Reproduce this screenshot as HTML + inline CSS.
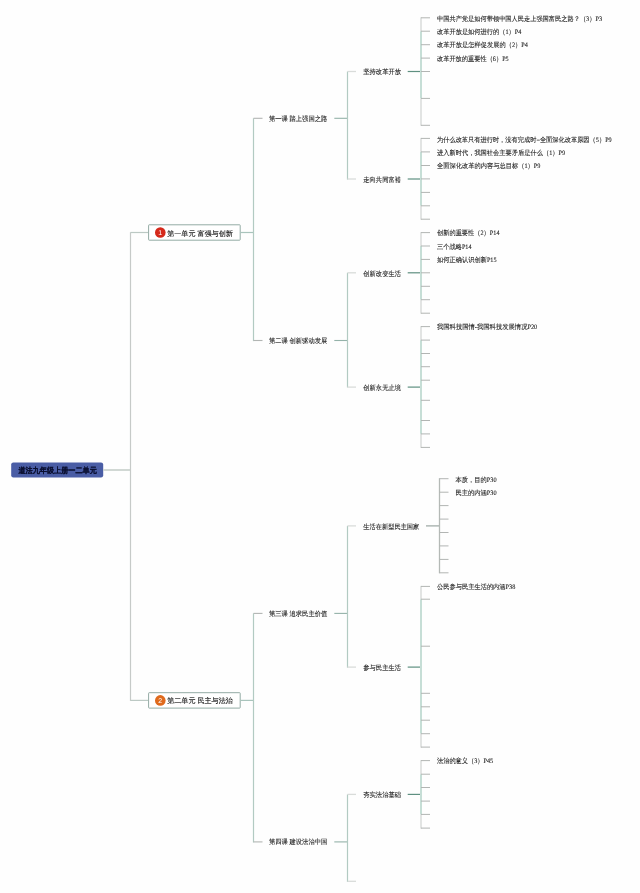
<!DOCTYPE html>
<html><head><meta charset="utf-8"><title>道法九年级上册一二单元</title>
<script>
(function(){try{var c=document.createElement('canvas').getContext('2d');c.font='100px "Liberation Sans", sans-serif';if(c.measureText('中国').width<180){document.documentElement.className+=' nocjk';}}catch(e){}})();
</script>
<style>
html,body{margin:0;padding:0;background:#fff;}
body{width:640px;height:893px;overflow:hidden;font-family:"Liberation Sans",sans-serif;}
svg{display:block;font-family:"Liberation Sans",sans-serif;text-rendering:geometricPrecision;filter:blur(0.3px);}
.t{stroke-width:0.1px;} .lat{font-family:"Liberation Serif",serif;} .u{stroke-width:0.13px;} .r{stroke-width:0.1px;}
.nocjk .t{stroke-width:0.26px;} .nocjk .u{stroke-width:0.4px;} .nocjk .r{stroke-width:0.75px;}
</style></head><body>
<svg width="640" height="893" viewBox="0 0 640 893">
<rect width="640" height="893" fill="#fefefe"/>
<rect x="11.20" y="462.40" width="92.00" height="15.00" fill="#4a5da5" rx="2.2"/>
<text class="r" x="18.5" y="473.00" font-size="7.8" fill="#0a0f30" font-weight="bold" textLength="78.3" lengthAdjust="spacingAndGlyphs" stroke="#0a0f30">道法九年级上册一二单元</text>
<rect x="103.00" y="469.10" width="27.00" height="1.80" fill="#cdd4d0"/>
<rect x="129.90" y="232.30" width="1.20" height="468.60" fill="#c6cac8"/>
<rect x="130.50" y="231.90" width="17.50" height="1.20" fill="#bcc9c4"/>
<rect x="148.6" y="224.8" width="91.6" height="15.4" rx="0.6" fill="#fff" stroke="#93aba4" stroke-width="1"/>
<circle cx="160.3" cy="232.5" r="5.3" fill="#d5291b"/>
<text x="160.3" y="235.0" font-size="7" fill="#fff" text-anchor="middle">1</text>
<text class="u" x="167.2" y="236.00" font-size="7.1" fill="#151515" textLength="65.6" lengthAdjust="spacingAndGlyphs" stroke="#151515">第一单元 富强与创新</text>
<rect x="240.40" y="231.90" width="13.10" height="1.20" fill="#a9c4bc"/>
<rect x="130.50" y="699.80" width="17.50" height="1.20" fill="#bcc9c4"/>
<rect x="148.6" y="692.7" width="91.6" height="15.4" rx="0.6" fill="#fff" stroke="#93aba4" stroke-width="1"/>
<circle cx="160.3" cy="700.4" r="5.3" fill="#df6a1d"/>
<text x="160.3" y="702.9" font-size="7" fill="#fff" text-anchor="middle">2</text>
<text class="u" x="167.2" y="703.00" font-size="7.1" fill="#151515" textLength="65.6" lengthAdjust="spacingAndGlyphs" stroke="#151515">第二单元 民主与法治</text>
<rect x="240.40" y="699.80" width="13.10" height="1.20" fill="#a9c4bc"/>
<rect x="252.90" y="118.30" width="1.20" height="222.80" fill="#b2cac2"/>
<rect x="252.90" y="613.40" width="1.20" height="229.10" fill="#b2cac2"/>
<rect x="253.50" y="117.75" width="9.00" height="1.10" fill="#b2b5b3"/>
<text class="t" x="269" y="121.00" font-size="6.8" fill="#222" textLength="58.2" lengthAdjust="spacingAndGlyphs" stroke="#222">第一课 踏上强国之路</text>
<rect x="334.30" y="117.75" width="13.20" height="1.10" fill="#94b2a9"/>
<rect x="346.90" y="71.50" width="1.20" height="108.10" fill="#b2cac2"/>
<rect x="253.50" y="339.95" width="9.00" height="1.10" fill="#b2b5b3"/>
<text class="t" x="269" y="343.00" font-size="6.8" fill="#222" textLength="58.2" lengthAdjust="spacingAndGlyphs" stroke="#222">第二课 创新驱动发展</text>
<rect x="334.30" y="339.95" width="13.20" height="1.10" fill="#94b2a9"/>
<rect x="346.90" y="272.80" width="1.20" height="114.70" fill="#b2cac2"/>
<rect x="253.50" y="612.85" width="9.00" height="1.10" fill="#b2b5b3"/>
<text class="t" x="269" y="616.00" font-size="6.8" fill="#222" textLength="58.2" lengthAdjust="spacingAndGlyphs" stroke="#222">第三课 追求民主价值</text>
<rect x="334.30" y="612.85" width="13.20" height="1.10" fill="#94b2a9"/>
<rect x="346.90" y="525.90" width="1.20" height="141.80" fill="#b2cac2"/>
<rect x="253.50" y="841.35" width="9.00" height="1.10" fill="#b2b5b3"/>
<text class="t" x="269" y="844.00" font-size="6.8" fill="#222" textLength="58.2" lengthAdjust="spacingAndGlyphs" stroke="#222">第四课 建设法治中国</text>
<rect x="334.30" y="841.35" width="13.20" height="1.10" fill="#94b2a9"/>
<rect x="346.90" y="794.40" width="1.20" height="87.50" fill="#b2cac2"/>
<rect x="347.50" y="70.85" width="8.50" height="1.30" fill="#d9dcda"/>
<text class="t" x="363.3" y="74.00" font-size="6.8" fill="#222" textLength="37.7" lengthAdjust="spacingAndGlyphs" stroke="#222">坚持改革开放</text>
<rect x="407.70" y="70.90" width="13.30" height="1.20" fill="#5f9081"/>
<rect x="420.25" y="17.30" width="1.50" height="13.90" fill="#d9dcda"/>
<rect x="420.25" y="98.40" width="1.50" height="27.40" fill="#d9dcda"/>
<rect x="420.00" y="31.20" width="2.00" height="67.20" fill="#c6ded6"/>
<rect x="421.00" y="17.30" width="9.00" height="1.00" fill="#b2b5b3"/>
<rect x="421.00" y="30.70" width="9.00" height="1.00" fill="#b2b5b3"/>
<rect x="421.00" y="44.20" width="9.00" height="1.00" fill="#b2b5b3"/>
<rect x="421.00" y="57.60" width="9.00" height="1.00" fill="#b2b5b3"/>
<rect x="421.00" y="71.00" width="9.00" height="1.00" fill="#b2b5b3"/>
<rect x="421.00" y="97.90" width="9.00" height="1.00" fill="#b2b5b3"/>
<rect x="421.00" y="124.80" width="9.00" height="1.00" fill="#b2b5b3"/>
<rect x="347.50" y="178.35" width="8.50" height="1.30" fill="#d9dcda"/>
<text class="t" x="363.3" y="182.00" font-size="6.8" fill="#222" textLength="37.7" lengthAdjust="spacingAndGlyphs" stroke="#222">走向共同富裕</text>
<rect x="407.70" y="178.40" width="13.30" height="1.20" fill="#5f9081"/>
<rect x="420.25" y="137.90" width="1.50" height="14.00" fill="#d9dcda"/>
<rect x="420.25" y="205.80" width="1.50" height="13.90" fill="#d9dcda"/>
<rect x="420.00" y="151.90" width="2.00" height="53.90" fill="#c6ded6"/>
<rect x="421.00" y="137.90" width="9.00" height="1.00" fill="#b2b5b3"/>
<rect x="421.00" y="151.40" width="9.00" height="1.00" fill="#b2b5b3"/>
<rect x="421.00" y="165.00" width="9.00" height="1.00" fill="#b2b5b3"/>
<rect x="421.00" y="178.40" width="9.00" height="1.00" fill="#b2b5b3"/>
<rect x="421.00" y="191.90" width="9.00" height="1.00" fill="#b2b5b3"/>
<rect x="421.00" y="205.30" width="9.00" height="1.00" fill="#b2b5b3"/>
<rect x="421.00" y="218.70" width="9.00" height="1.00" fill="#b2b5b3"/>
<rect x="347.50" y="272.15" width="8.50" height="1.30" fill="#d9dcda"/>
<text class="t" x="363.3" y="276.00" font-size="6.8" fill="#222" textLength="37.7" lengthAdjust="spacingAndGlyphs" stroke="#222">创新改变生活</text>
<rect x="407.70" y="272.20" width="13.30" height="1.20" fill="#5f9081"/>
<rect x="420.25" y="232.10" width="1.50" height="13.90" fill="#d9dcda"/>
<rect x="420.25" y="299.70" width="1.50" height="14.00" fill="#d9dcda"/>
<rect x="420.00" y="246.00" width="2.00" height="53.70" fill="#c6ded6"/>
<rect x="421.00" y="232.10" width="9.00" height="1.00" fill="#b2b5b3"/>
<rect x="421.00" y="245.50" width="9.00" height="1.00" fill="#b2b5b3"/>
<rect x="421.00" y="258.90" width="9.00" height="1.00" fill="#b2b5b3"/>
<rect x="421.00" y="272.30" width="9.00" height="1.00" fill="#b2b5b3"/>
<rect x="421.00" y="285.80" width="9.00" height="1.00" fill="#b2b5b3"/>
<rect x="421.00" y="299.20" width="9.00" height="1.00" fill="#b2b5b3"/>
<rect x="421.00" y="312.70" width="9.00" height="1.00" fill="#b2b5b3"/>
<rect x="347.50" y="386.45" width="8.50" height="1.30" fill="#d9dcda"/>
<text class="t" x="363.3" y="390.00" font-size="6.8" fill="#222" textLength="37.7" lengthAdjust="spacingAndGlyphs" stroke="#222">创新永无止境</text>
<rect x="407.70" y="386.50" width="13.30" height="1.20" fill="#5f9081"/>
<rect x="420.25" y="326.10" width="1.50" height="14.00" fill="#d9dcda"/>
<rect x="420.25" y="433.90" width="1.50" height="14.00" fill="#d9dcda"/>
<rect x="420.00" y="340.10" width="2.00" height="93.80" fill="#c6ded6"/>
<rect x="421.00" y="326.10" width="9.00" height="1.00" fill="#b2b5b3"/>
<rect x="421.00" y="339.60" width="9.00" height="1.00" fill="#b2b5b3"/>
<rect x="421.00" y="353.00" width="9.00" height="1.00" fill="#b2b5b3"/>
<rect x="421.00" y="366.20" width="9.00" height="1.00" fill="#b2b5b3"/>
<rect x="421.00" y="379.70" width="9.00" height="1.00" fill="#b2b5b3"/>
<rect x="421.00" y="399.80" width="9.00" height="1.00" fill="#b2b5b3"/>
<rect x="421.00" y="420.00" width="9.00" height="1.00" fill="#b2b5b3"/>
<rect x="421.00" y="433.40" width="9.00" height="1.00" fill="#b2b5b3"/>
<rect x="421.00" y="446.90" width="9.00" height="1.00" fill="#b2b5b3"/>
<rect x="347.50" y="525.25" width="8.50" height="1.30" fill="#d9dcda"/>
<text class="t" x="363.3" y="529.00" font-size="6.8" fill="#222" textLength="56.0" lengthAdjust="spacingAndGlyphs" stroke="#222">生活在新型民主国家</text>
<rect x="426.00" y="525.30" width="13.50" height="1.20" fill="#9aa6a1"/>
<rect x="438.85" y="478.20" width="1.30" height="95.10" fill="#b4b9b6"/>
<rect x="439.50" y="478.20" width="9.00" height="1.00" fill="#b2b5b3"/>
<rect x="439.50" y="491.70" width="9.00" height="1.00" fill="#b2b5b3"/>
<rect x="439.50" y="505.10" width="9.00" height="1.00" fill="#b2b5b3"/>
<rect x="439.50" y="518.60" width="9.00" height="1.00" fill="#b2b5b3"/>
<rect x="439.50" y="532.00" width="9.00" height="1.00" fill="#b2b5b3"/>
<rect x="439.50" y="545.40" width="9.00" height="1.00" fill="#b2b5b3"/>
<rect x="439.50" y="558.90" width="9.00" height="1.00" fill="#b2b5b3"/>
<rect x="439.50" y="572.30" width="9.00" height="1.00" fill="#b2b5b3"/>
<rect x="347.50" y="666.45" width="8.50" height="1.30" fill="#d9dcda"/>
<text class="t" x="363.3" y="670.00" font-size="6.8" fill="#222" textLength="37.7" lengthAdjust="spacingAndGlyphs" stroke="#222">参与民主生活</text>
<rect x="407.70" y="666.50" width="13.30" height="1.20" fill="#5f9081"/>
<rect x="420.25" y="585.90" width="1.50" height="13.30" fill="#d9dcda"/>
<rect x="420.25" y="733.70" width="1.50" height="13.90" fill="#d9dcda"/>
<rect x="420.00" y="599.20" width="2.00" height="134.50" fill="#c6ded6"/>
<rect x="421.00" y="585.90" width="9.00" height="1.00" fill="#b2b5b3"/>
<rect x="421.00" y="598.70" width="9.00" height="1.00" fill="#b2b5b3"/>
<rect x="421.00" y="645.70" width="9.00" height="1.00" fill="#b2b5b3"/>
<rect x="421.00" y="692.80" width="9.00" height="1.00" fill="#b2b5b3"/>
<rect x="421.00" y="706.30" width="9.00" height="1.00" fill="#b2b5b3"/>
<rect x="421.00" y="719.70" width="9.00" height="1.00" fill="#b2b5b3"/>
<rect x="421.00" y="733.20" width="9.00" height="1.00" fill="#b2b5b3"/>
<rect x="421.00" y="746.60" width="9.00" height="1.00" fill="#b2b5b3"/>
<rect x="347.50" y="793.75" width="8.50" height="1.30" fill="#d9dcda"/>
<text class="t" x="363.3" y="797.00" font-size="6.8" fill="#222" textLength="37.7" lengthAdjust="spacingAndGlyphs" stroke="#222">夯实法治基础</text>
<rect x="407.70" y="793.80" width="13.30" height="1.20" fill="#5f9081"/>
<rect x="420.25" y="760.10" width="1.50" height="14.10" fill="#d9dcda"/>
<rect x="420.25" y="814.40" width="1.50" height="14.20" fill="#d9dcda"/>
<rect x="420.00" y="774.20" width="2.00" height="40.20" fill="#c6ded6"/>
<rect x="421.00" y="760.10" width="9.00" height="1.00" fill="#b2b5b3"/>
<rect x="421.00" y="773.70" width="9.00" height="1.00" fill="#b2b5b3"/>
<rect x="421.00" y="787.00" width="9.00" height="1.00" fill="#b2b5b3"/>
<rect x="421.00" y="800.60" width="9.00" height="1.00" fill="#b2b5b3"/>
<rect x="421.00" y="813.90" width="9.00" height="1.00" fill="#b2b5b3"/>
<rect x="421.00" y="827.60" width="9.00" height="1.00" fill="#b2b5b3"/>
<rect x="347.50" y="880.65" width="8.50" height="1.30" fill="#d9dcda"/>
<text class="t" x="437" y="21.00" font-size="6.7" fill="#222" textLength="165.0" lengthAdjust="spacingAndGlyphs" stroke="#222">中国共产党是如何带领中国人民走上强国富民之路？（<tspan class="lat">3</tspan>）<tspan class="lat">P3</tspan></text>
<text class="t" x="437" y="34.00" font-size="6.7" fill="#222" textLength="84.4" lengthAdjust="spacingAndGlyphs" stroke="#222">改革开放是如何进行的（<tspan class="lat">1</tspan>）<tspan class="lat">P4</tspan></text>
<text class="t" x="437" y="47.00" font-size="6.7" fill="#222" textLength="90.9" lengthAdjust="spacingAndGlyphs" stroke="#222">改革开放是怎样促发展的（<tspan class="lat">2</tspan>）<tspan class="lat">P4</tspan></text>
<text class="t" x="437" y="61.00" font-size="6.7" fill="#222" textLength="71.7" lengthAdjust="spacingAndGlyphs" stroke="#222">改革开放的重要性（<tspan class="lat">6</tspan>）<tspan class="lat">P5</tspan></text>
<text class="t" x="437" y="142.00" font-size="6.7" fill="#222" textLength="174.7" lengthAdjust="spacingAndGlyphs" stroke="#222">为什么改革只有进行时，没有完成时<tspan class="lat">=</tspan>全面深化改革原因（<tspan class="lat">5</tspan>）<tspan class="lat">P9</tspan></text>
<text class="t" x="437" y="155.00" font-size="6.7" fill="#222" textLength="128.1" lengthAdjust="spacingAndGlyphs" stroke="#222">进入新时代，我国社会主要矛盾是什么（<tspan class="lat">1</tspan>）<tspan class="lat">P9</tspan></text>
<text class="t" x="437" y="168.00" font-size="6.7" fill="#222" textLength="103.4" lengthAdjust="spacingAndGlyphs" stroke="#222">全面深化改革的内容与总目标（<tspan class="lat">1</tspan>）<tspan class="lat">P9</tspan></text>
<text class="t" x="437" y="235.00" font-size="6.7" fill="#222" textLength="62.5" lengthAdjust="spacingAndGlyphs" stroke="#222">创新的重要性（<tspan class="lat">2</tspan>）<tspan class="lat">P14</tspan></text>
<text class="t" x="437" y="249.00" font-size="6.7" fill="#222" textLength="34.6" lengthAdjust="spacingAndGlyphs" stroke="#222">三个战略<tspan class="lat">P14</tspan></text>
<text class="t" x="437" y="262.00" font-size="6.7" fill="#222" textLength="59.6" lengthAdjust="spacingAndGlyphs" stroke="#222">如何正确认识创新<tspan class="lat">P15</tspan></text>
<text class="t" x="437" y="329.00" font-size="6.7" fill="#222" textLength="100.3" lengthAdjust="spacingAndGlyphs" stroke="#222">我国科技国情<tspan class="lat">-</tspan>我国科技发展情况<tspan class="lat">P20</tspan></text>
<text class="t" x="455.6" y="482.00" font-size="6.7" fill="#222" textLength="41.0" lengthAdjust="spacingAndGlyphs" stroke="#222">本质，目的<tspan class="lat">P30</tspan></text>
<text class="t" x="455.6" y="495.00" font-size="6.7" fill="#222" textLength="41.0" lengthAdjust="spacingAndGlyphs" stroke="#222">民主的内涵<tspan class="lat">P30</tspan></text>
<text class="t" x="437" y="589.00" font-size="6.7" fill="#222" textLength="78.3" lengthAdjust="spacingAndGlyphs" stroke="#222">公民参与民主生活的内涵<tspan class="lat">P38</tspan></text>
<text class="t" x="437" y="763.00" font-size="6.7" fill="#222" textLength="56.1" lengthAdjust="spacingAndGlyphs" stroke="#222">法治的意义（<tspan class="lat">3</tspan>）<tspan class="lat">P45</tspan></text>
</svg>
</body></html>
